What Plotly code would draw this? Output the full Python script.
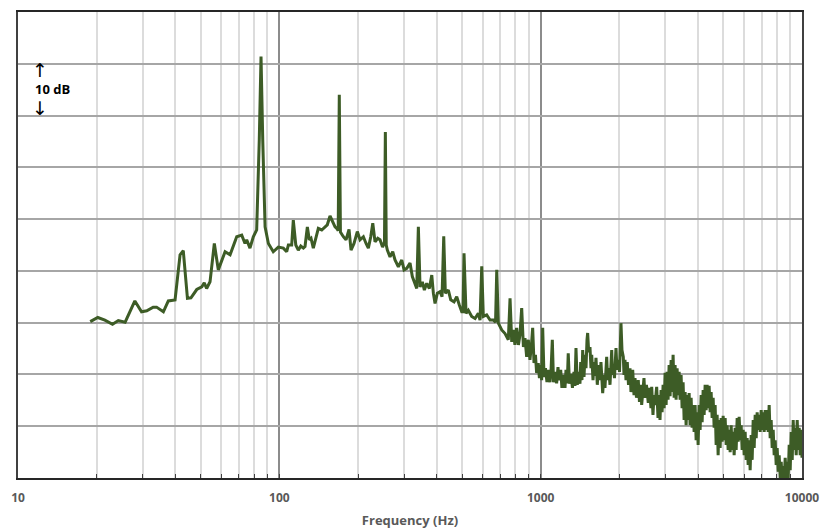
import plotly.graph_objects as go

# ---- data ----
tick_vals = [10, 100, 1000, 10000]
tick_text = ["10", "100", "1000", "10000"]
minor_vals = [20, 30, 40, 50, 60, 70, 80, 90,
              200, 300, 400, 500, 600, 700, 800, 900,
              2000, 3000, 4000, 5000, 6000, 7000, 8000, 9000]

freq_low = [18.9, 20.2, 21.5, 23.0, 24.2, 25.7, 28.0, 29.7, 31.1, 32.9, 33.9, 36.0, 37.6, 39.9,
            41.7, 42.9, 44.5, 45.9, 48.3, 50.5, 51.6, 52.7, 54.3, 56.4, 58.4, 62.0, 64.8, 68.7,
            71.8, 73.9, 75.0, 77.2, 79.5, 81.9, 83.8, 85.1, 86.4, 88.2, 90.8, 94.8, 99.1]
level_low = [30.2, 31.0, 30.5, 29.7, 30.4, 30.1, 34.2, 32.1, 32.3, 33.0, 33.0, 32.1, 34.2, 34.4,
             43.1, 43.9, 34.7, 34.8, 36.4, 36.9, 37.7, 36.6, 37.9, 45.3, 40.2, 43.7, 43.1, 46.6,
             46.9, 45.3, 46.0, 44.4, 46.6, 47.9, 65.3, 81.4, 65.3, 48.5, 45.3, 43.7, 44.6]

freq_mid = [103.6, 106.7, 108.3, 111.5, 113.1, 115.6, 118.2, 120.8, 123.6, 125.4, 128.0, 130.2,
            132.2, 134.9, 139.0, 141.0, 145.3, 149.6, 152.6, 156.3, 160.1, 163.4, 165.8, 168.0,
            169.6, 171.3, 175.8, 180.0, 184.8, 188.1, 193.1, 198.8, 203.6, 209.7, 214.7, 219.1,
            223.8, 227.8, 232.4, 238.0, 242.8, 248.3, 252.5, 254.5, 256.5, 259.0, 265.2, 271.6,
            277.1, 285.4, 294.1, 300.1, 307.3, 316.3, 322.8, 330.6, 335.6, 340.4, 345.5, 352.6,
            358.9, 366.4, 375.0, 383.1, 388.5, 394.3, 402.4, 412.1, 419.4, 425.7, 431.8, 443.3,
            452.8, 466.1, 477.3, 488.4, 498.9, 504.5, 509.0, 518.1, 528.7, 544.6, 560.9, 577.3,
            586.1, 595.0, 603.4, 621.6, 640.3, 659.2, 672.0, 679.1, 688.7, 709.6, 730.6, 752.0,
            763.5, 775.0]
level_mid = [44.4, 43.7, 45.0, 45.0, 49.8, 45.0, 44.0, 44.8, 44.4, 44.7, 48.5, 46.0,
             46.3, 44.4, 46.9, 48.2, 47.9, 48.5, 48.9, 50.6, 49.5, 48.5, 48.2, 47.8,
             74.0, 47.5, 46.6, 46.0, 48.0, 44.0, 45.3, 47.6, 46.0, 46.6, 45.3, 44.4,
             46.6, 49.2, 45.6, 46.3, 46.0, 44.6, 45.5, 66.8, 45.0, 44.0, 42.7, 43.7,
             42.1, 40.8, 42.1, 40.2, 40.5, 41.5, 38.9, 37.6, 36.6, 48.5, 36.9, 37.9,
             36.3, 37.6, 36.6, 39.2, 35.7, 33.7, 35.7, 36.0, 35.0, 46.7, 35.7, 36.3,
             34.4, 34.0, 35.0, 33.4, 32.1, 32.1, 43.4, 31.8, 32.4, 31.2, 30.8, 31.8,
             30.5, 40.9, 31.2, 31.5, 30.5, 30.5, 30.1, 40.2, 29.9, 28.6, 27.9, 26.7,
             34.7, 26.3]

freq_high = [786, 797, 809, 822, 833, 846, 859, 871, 884, 897, 910, 922, 932, 943, 955, 965, 979,
             989, 1000, 1009, 1018, 1030, 1043, 1057, 1069, 1086, 1095, 1108, 1120, 1134, 1151,
             1165, 1175, 1193, 1206, 1220, 1239, 1250, 1264, 1275, 1289, 1306, 1323, 1341, 1353,
             1365, 1381, 1398, 1414, 1423, 1439, 1448, 1465, 1478, 1491, 1504, 1513, 1527, 1544,
             1558, 1568, 1586, 1600, 1614, 1628, 1647, 1664, 1687, 1701, 1727, 1747, 1762, 1778,
             1789, 1805, 1821, 1842, 1858, 1870, 1883, 1896, 1916, 1942, 1959, 1982, 2003, 2017,
             2029, 2047, 2071, 2084, 2102, 2121, 2145, 2168, 2197, 2216, 2250, 2276, 2296, 2326,
             2363, 2388, 2420, 2435, 2463, 2485, 2507, 2540, 2581, 2609, 2643, 2660, 2690, 2714,
             2738, 2779, 2812, 2836, 2862]
level_high = [28.6, 25.7, 29.0, 25.7, 27.6, 32.8, 25.3, 27.0, 23.4, 26.7, 22.8, 25.7, 29.0, 22.2,
              23.8, 20.3, 22.2, 19.3, 21.8, 18.9, 29.0, 19.5, 21.2, 18.5, 20.9, 18.5, 20.5, 26.7,
              18.5, 20.5, 18.3, 21.4, 18.9, 20.9, 17.4, 19.9, 17.4, 20.9, 18.3, 24.1, 18.2, 20.1,
              17.4, 20.5, 17.8, 25.1, 18.0, 20.5, 18.2, 22.4, 18.9, 24.7, 19.5, 23.8, 21.2, 26.7,
              28.0, 24.3, 25.3, 21.2, 23.8, 18.9, 22.4, 19.7, 23.2, 18.0, 21.8, 18.9, 22.4, 16.4,
              19.9, 17.4, 21.2, 23.4, 18.9, 21.2, 18.0, 22.4, 24.7, 19.9, 21.8, 19.3, 25.1, 20.9,
              22.8, 20.5, 25.7, 29.9, 24.7, 23.4, 19.9, 22.8, 18.9, 22.4, 18.0, 21.2, 16.6, 20.9,
              16.0, 19.3, 15.5, 18.9, 14.7, 18.0, 14.1, 17.4, 19.3, 15.5, 18.0, 14.5, 17.4, 13.5,
              17.6, 12.2, 16.0, 14.1, 17.6, 11.6, 16.0, 11.2]

freq_top = [2890, 2915, 2941, 2967, 2993, 3020, 3047, 3073, 3101, 3128,
            3156, 3184, 3212, 3241, 3269, 3298, 3327, 3357, 3387, 3416,
            3447, 3477, 3508, 3539, 3571, 3602, 3634, 3666, 3699, 3731,
            3765, 3798, 3832, 3865, 3900, 3934, 3969, 4004, 4040, 4075,
            4112, 4148, 4185, 4222, 4259, 4297, 4335, 4373, 4412, 4451,
            4491, 4530, 4571, 4611, 4652, 4693, 4734, 4776, 4819, 4861,
            4905, 4948, 4992, 5036, 5081, 5126, 5171, 5217, 5263, 5310,
            5357, 5404, 5452, 5500, 5549, 5598, 5648, 5698, 5748, 5799,
            5851, 5902, 5955, 6007, 6060, 6114, 6168, 6223, 6278, 6333,
            6390, 6446, 6504, 6561, 6619, 6678, 6737, 6796, 6857, 6917,
            6979, 7041, 7103, 7166, 7229, 7293, 7358, 7423, 7488, 7555,
            7622, 7690, 7758, 7826, 7896, 7965, 8036, 8107, 8179, 8251,
            8325, 8398, 8473, 8548, 8623, 8700, 8777, 8854, 8933, 9012,
            9092, 9173, 9254, 9336, 9418, 9502, 9586, 9671, 9756, 9842,
            9930, 10000]
level_top = [17.0, 12.7, 18.0, 13.5, 20.3, 14.1, 20.5, 15.1, 21.8, 15.8,
             22.8, 16.6, 23.8, 15.5, 21.8, 15.1, 21.2, 16.0, 20.5, 15.1,
             19.9, 13.5, 18.5, 11.2, 16.6, 10.2, 16.0, 11.2, 16.4, 10.2,
             15.5, 9.7, 14.1, 8.9, 14.1, 7.3, 12.7, 6.4, 14.1, 9.3,
             16.0, 10.8, 17.0, 12.2, 18.0, 13.1, 18.0, 13.5, 17.8, 12.7,
             16.6, 11.6, 15.5, 9.7, 14.1, 6.4, 12.2, 4.4, 11.2, 5.8,
             11.6, 7.0, 12.0, 7.3, 11.6, 6.4, 10.2, 5.4, 9.3, 5.0,
             10.2, 5.4, 8.9, 4.4, 9.7, 5.4, 11.6, 7.0, 11.8, 7.3,
             10.2, 5.4, 9.3, 4.4, 8.9, 3.5, 7.7, 2.5, 7.3, 1.5,
             8.3, 3.5, 11.2, 5.8, 12.2, 7.7, 12.7, 9.3, 12.2, 8.9,
             13.1, 9.3, 12.7, 8.9, 13.1, 9.3, 13.1, 8.9, 14.1, 7.7,
             11.2, 5.8, 9.3, 4.4, 7.3, 2.5, 5.8, 1.2, 4.4, 0.0,
             3.1, -0.4, 2.3, -0.4, 3.9, 0.0, 3.1, 0.0, 6.4, 1.5,
             8.9, 3.5, 11.2, 5.4, 9.7, 4.4, 11.2, 5.4, 9.7, 4.4,
             9.3, 3.9]

freq_hz = freq_low + freq_mid + freq_high + freq_top
level_db = level_low + level_mid + level_high + level_top

# ---- figure ----
FONT = "Open Sans"
LINE_COLOR = "#3D5C26"

fig = go.Figure()
fig.add_trace(go.Scatter(
    x=freq_hz, y=level_db, mode="lines",
    line=dict(color=LINE_COLOR, width=3),
    hoverinfo="skip", showlegend=False,
))

fig.update_xaxes(
    type="log", range=[1, 4],
    tickmode="array", tickvals=tick_vals, ticktext=tick_text,
    showgrid=True, gridcolor="#8c8c8c", gridwidth=1.5,
    minor=dict(tickmode="array", tickvals=minor_vals, showgrid=True,
               gridcolor="#dcdcdc", gridwidth=1.5,
               ticks="inside", ticklen=4, tickcolor="#404040", tickwidth=1),
    ticks="inside", ticklen=4, tickcolor="#404040", tickwidth=1,
    showline=True, linecolor="#262626", linewidth=1.5, mirror=True,
    zeroline=False, automargin=False,
    ticklabelstandoff=8,
    tickfont=dict(family=FONT, size=12, color="#595959", weight="bold"),
    title=dict(text="Frequency (Hz)", standoff=12,
               font=dict(family=FONT, size=13, color="#595959", weight="bold")),
)
fig.update_yaxes(
    range=[0, 90], tick0=0, dtick=10,
    showticklabels=False, ticks="",
    showgrid=True, gridcolor="#a6a6a6", gridwidth=1.5,
    showline=True, linecolor="#404040", linewidth=1.5, mirror=True,
    zeroline=False, automargin=False,
)

ann_font = dict(family=FONT, size=13, color="#000000", weight="bold")
arrow_font = dict(family="DejaVu Sans", size=19, color="#000000")
fig.add_annotation(text="↑", xref="paper", yref="paper", x=0.0281, y=0.8755,
                   showarrow=False, font=arrow_font, xanchor="center", yanchor="middle")
fig.add_annotation(text="10 dB", xref="paper", yref="paper", x=0.019, y=0.8348,
                   showarrow=False, font=ann_font, xanchor="left", yanchor="middle")
fig.add_annotation(text="↓", xref="paper", yref="paper", x=0.0281, y=0.794,
                   showarrow=False, font=arrow_font, xanchor="center", yanchor="middle")

fig.update_layout(
    width=821, height=529,
    margin=dict(l=18, r=19, t=12, b=51, autoexpand=False),
    paper_bgcolor="white", plot_bgcolor="white",
)

# remove the default page margin so the 821x529 figure fills the window exactly
fig.write_html(
    "out.html",
    config={"displayModeBar": False},
    post_script="document.body.style.margin='0';document.body.style.overflow='hidden';",
)
